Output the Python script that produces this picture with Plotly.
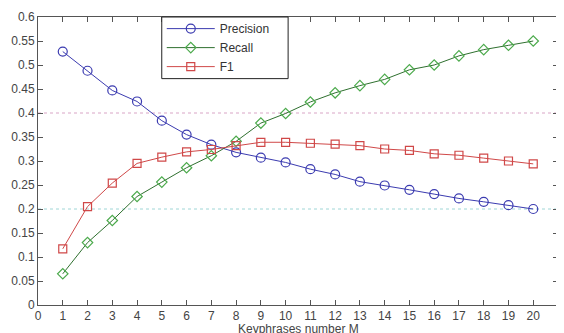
import plotly.graph_objects as go

m_values = list(range(1, 21))
precision = [0.528, 0.488, 0.447, 0.424, 0.384, 0.355, 0.334, 0.318, 0.307, 0.297,
             0.283, 0.272, 0.257, 0.249, 0.240, 0.231, 0.222, 0.215, 0.208, 0.200]
recall = [0.065, 0.130, 0.176, 0.226, 0.256, 0.286, 0.311, 0.341, 0.379, 0.399,
          0.423, 0.442, 0.457, 0.470, 0.490, 0.500, 0.519, 0.532, 0.541, 0.550]
f1 = [0.117, 0.205, 0.254, 0.295, 0.308, 0.319, 0.324, 0.332, 0.339, 0.339,
      0.337, 0.335, 0.332, 0.325, 0.322, 0.315, 0.312, 0.306, 0.300, 0.294]
ref_lines = [0.2, 0.4]
ref_colors = ["#9fd6d6", "#d9a5c6"]
x_ticks = list(range(0, 22))

fig = go.Figure()
fig.add_trace(go.Scatter(x=m_values, y=precision, name="Precision", mode="lines+markers",
                         line=dict(color="#3b3bb0", width=1),
                         marker=dict(symbol="circle-open", size=9, color="#3b3bb0", line=dict(width=1.2))))
fig.add_trace(go.Scatter(x=m_values, y=recall, name="Recall", mode="lines+markers",
                         line=dict(color="#2f702f", width=1),
                         marker=dict(symbol="diamond-open", size=8, color="#4caa4c", line=dict(width=1.2))))
fig.add_trace(go.Scatter(x=m_values, y=f1, name="F1", mode="lines+markers",
                         line=dict(color="#d04848", width=1),
                         marker=dict(symbol="square-open", size=8, color="#d04848", line=dict(width=1.2))))

for yv, c in zip(ref_lines, ref_colors):
    fig.add_shape(type="line", xref="x", yref="y", x0=0, x1=21, y0=yv, y1=yv,
                  line=dict(color=c, width=1, dash="dot"), layer="below")

# legend frame
fig.add_shape(type="rect", xref="paper", yref="paper", x0=0.238, x1=0.481, y0=0.786, y1=1.0,
              line=dict(color="#222222", width=1), fillcolor="white", layer="above")

axis_common = dict(showgrid=False, zeroline=False, showline=True, linecolor="#555555",
                   linewidth=1, mirror="ticks", ticks="inside", ticklen=5, tickcolor="#555555",
                   automargin=False,
                   tickfont=dict(family="Liberation Sans, Arial", size=12, color="#444444"))

fig.update_xaxes(range=[0, 21], tickvals=x_ticks, **axis_common)
fig.update_yaxes(range=[0, 0.6], dtick=0.05, tick0=0, **axis_common)

fig.add_annotation(text="Keyphrases number M", xref="paper", yref="paper", x=0.5, y=0,
                   yshift=-33, xanchor="center", yanchor="bottom", showarrow=False,
                   font=dict(family="Liberation Sans, Arial", size=12, color="#444444"))

fig.update_layout(
    width=556, height=325,
    margin=dict(l=30, r=6, t=7, b=28),
    paper_bgcolor="white", plot_bgcolor="white",
    showlegend=True,
    legend=dict(x=0.238, y=1.01, xanchor="left", yanchor="top",
                borderwidth=0, bgcolor="rgba(0,0,0,0)",
                font=dict(family="Liberation Sans, Arial", size=12, color="#333333"),
                tracegroupgap=0, itemwidth=48),
)

fig.write_html("out.html")
